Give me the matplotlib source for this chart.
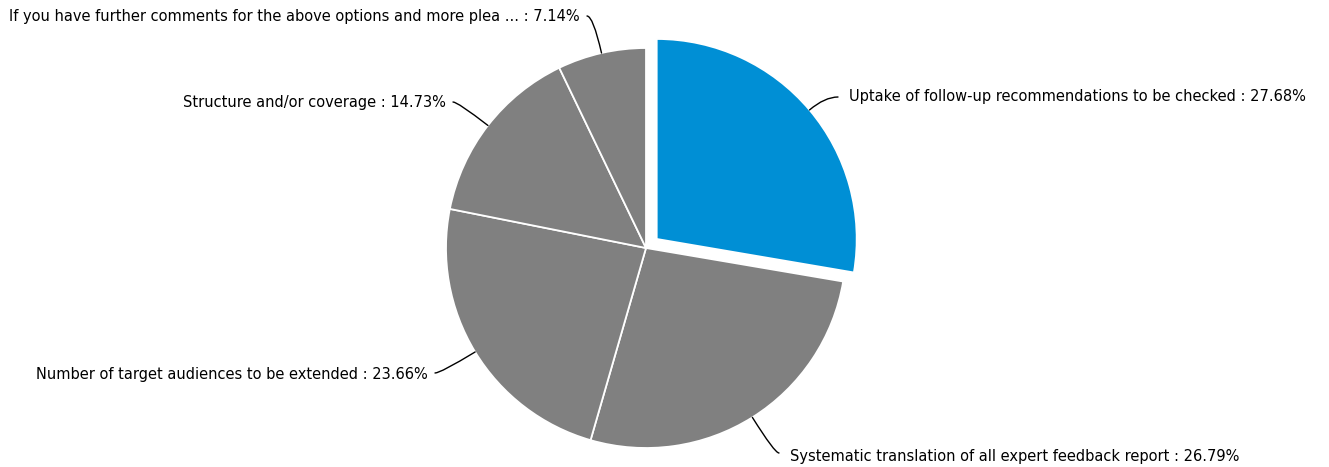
import numpy as np
import matplotlib.pyplot as plt

labels = ["Uptake of follow-up recommendations to be checked",
          "Systematic translation of all expert feedback report",
          "Number of target audiences to be extended",
          "Structure and/or coverage",
          "If you have further comments for the above options and more plea ..."]
values = [27.68, 26.79, 23.66, 14.73, 7.14]
colors = ["#008fd5", "#808080", "#808080", "#808080", "#808080"]

# label text anchor (pixel coords, y up) and alignment
text_pos = [(849, 370), (790, 11), (428, 93), (446, 364), (580, 450)]
text_ha = ["left", "left", "right", "right", "right"]
line_end = [(838, 370), (779, 14), (435, 94), (453, 365), (587, 451)]

W, H = 1329, 467
fig = plt.figure(figsize=(W / 100, H / 100), dpi=100)
ax = fig.add_axes([0, 0, 1, 1])

cx, cy, r = 646, H - 248, 200
# explode is in data units here (pixels)
wedges, _ = ax.pie(values, colors=colors, startangle=90, counterclock=False,
                   center=(cx, cy), radius=r, explode=[14, 0, 0, 0, 0],
                   wedgeprops=dict(edgecolor="white", linewidth=1.3))
ax.set_xlim(0, W)
ax.set_ylim(0, H)
ax.set_aspect("equal")
ax.axis("off")

for w, lab, v, tp, ha, le in zip(wedges, labels, values, text_pos, text_ha, line_end):
    ang = np.deg2rad((w.theta1 + w.theta2) / 2)
    ex = w.center[0] + r * np.cos(ang)
    ey = w.center[1] + r * np.sin(ang)
    angdeg = np.rad2deg(ang)
    ax.annotate("", xy=(ex, ey), xytext=le,
                arrowprops=dict(arrowstyle="-", color="black", lw=1,
                                shrinkA=0, shrinkB=0,
                                connectionstyle="angle3,angleA=0,angleB=%.1f" % angdeg))
    ax.text(tp[0], tp[1], "%s : %.2f%%" % (lab, v), ha=ha, va="center",
            fontsize=10.5, color="black")

fig.savefig("out.png", dpi=100)
